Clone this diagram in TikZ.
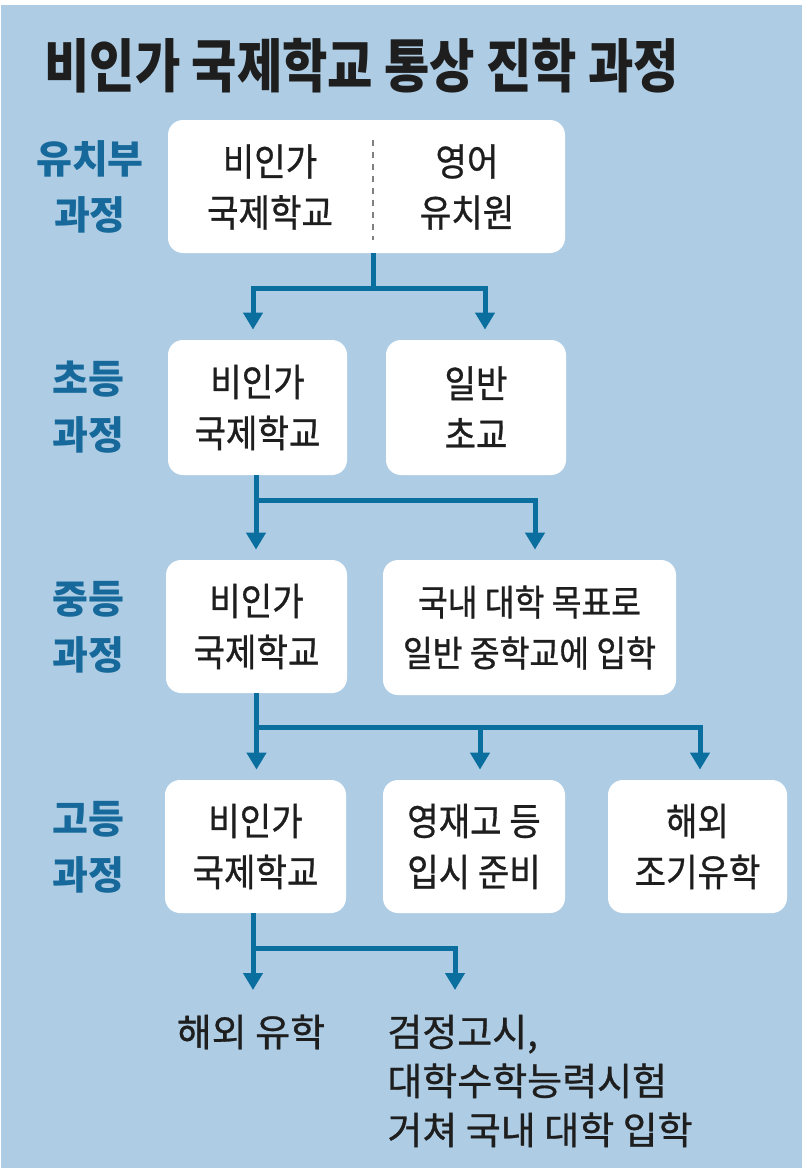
\documentclass[tikz,border=0pt]{standalone}
\usepackage{fontspec}
\usetikzlibrary{arrows.meta,calc}
\newfontfamily\kr[FakeStretch=0.9, FakeBold=0.8]{Noto Sans CJK KR}
\newfontfamily\krwide[FakeBold=0.8]{Noto Sans CJK KR}
\newfontfamily\krlabel{Noto Sans CJK KR}
\newfontfamily\krtitle[FakeStretch=0.85]{Noto Sans CJK KR}
\definecolor{bgblue}{HTML}{AECDE5}
\definecolor{flowblue}{HTML}{0A6E9E}
\definecolor{stageblue}{HTML}{16699A}
\definecolor{ink}{HTML}{1E1E1E}
\begin{document}
\begin{tikzpicture}[x=0.5pt, y=-0.5pt,
    school/.style={fill=white, rounded corners=7.5pt, minimum height=66.5pt, inner sep=0pt, align=center, font=\kr\fontsize{19}{25.5}\selectfont, text=ink},
    stage/.style={align=center, inner sep=0pt, font=\krlabel\bfseries\fontsize{19.5}{28}\selectfont, text=stageblue},
    outcome/.style={inner sep=0pt, font=\krwide\fontsize{19}{24.5}\selectfont, text=ink},
    link/.style={draw=flowblue, line width=2.5pt},
    flow/.style={link, shorten >=5pt, -{Triangle[width=9.5pt,length=8.5pt]}}
]
\useasboundingbox (0,0) rectangle (809,1173);
\fill[white] (0,0) rectangle (809,1173);
\fill[bgblue] (1,5) rectangle (802,1168);

% title
\node[anchor=west, inner sep=0pt, text=ink, font=\krtitle\bfseries\fontsize{29}{34}\selectfont] (title) at (44,66) {비인가 국제학교 통상 진학 과정};

% stages
\node[stage] (s1) at (90,187) {유치부\\과정};
\node[stage] (s2) at (88,407) {초등\\과정};
\node[stage] (s3) at (88,627) {중등\\과정};
\node[stage] (s4) at (88,847) {고등\\과정};

% kindergarten
\node[school, minimum width=198.5pt] (k) at (366.5,186.5) {};
\draw[gray, line width=0.6pt, dash pattern=on 3pt off 3pt] ($(k.north)+(6.5,20)$) -- ($(k.south)+(6.5,-13)$);
\node[align=center, inner sep=0pt, font=\kr\fontsize{19}{25.5}\selectfont, text=ink] (k1) at (270,187) {비인가\\국제학교};
\node[align=center, inner sep=0pt, font=\kr\fontsize{19}{25.5}\selectfont, text=ink] (k2) at (467,187) {영어\\유치원};

% elementary
\node[school, minimum width=89.5pt, minimum height=67.5pt] (e1) at (257.5,407.5) {비인가\\국제학교};
\node[school, minimum width=90pt, minimum height=67.5pt] (e2) at (476,407.5) {일반\\초교};

% middle
\node[school, minimum width=90.5pt] (m1) at (256.5,626.5) {비인가\\국제학교};
\node[school, minimum width=146.5pt, minimum height=67.5pt, font=\kr\fontsize{18}{25.5}\selectfont] (m2) at (529.5,627.5) {국내 대학 목표로\\일반 중학교에 입학};

% high
\node[school, minimum width=90.5pt] (h1) at (255.5,846.5) {비인가\\국제학교};
\node[school, minimum width=91pt] (h2) at (474,846.5) {영재고 등\\입시 준비};
\node[school, minimum width=89.5pt] (h3) at (697.5,846.5) {해외\\조기유학};

% after high school
\node[outcome] (o1) at (251,1032) {해외 유학};
\node[outcome, anchor=west, align=left] (o2) at (387,1081) {검정고시,\\대학수학능력시험\\거쳐 국내 대학 입학};

% connectors
\coordinate (j1) at ($(k.south)+(6.5,35)$);
\draw[link] (k.south -| j1) -- (j1);
\draw[flow] (j1) -| ([xshift=-2.25pt]e1.north);
\draw[flow] (j1) -| ([xshift=4.5pt]e2.north);

\coordinate (j2) at ($(e1.south)+(-1.5,25)$);
\draw[flow] (e1.south -| j2) -- (m1.north -| j2);
\draw[flow] (j2) -| ([xshift=2.75pt]m2.north);

\coordinate (j3) at ($(m1.south)+(0,34)$);
\draw[flow] (m1.south) -- (h1.north -| j3);
\draw[flow] (j3) -| ([xshift=3pt]h2.north);
\draw[flow] (j3) -| ([xshift=1.25pt]h3.north);

\coordinate (j4) at ($(h1.south)+(-2.5,35)$);
\coordinate (t1) at (253,1000);
\coordinate (t2) at (455,1000);
\draw[flow] (h1.south -| j4) -- (t1);
\draw[flow] (j4) -| (t2);
\end{tikzpicture}
\end{document}
